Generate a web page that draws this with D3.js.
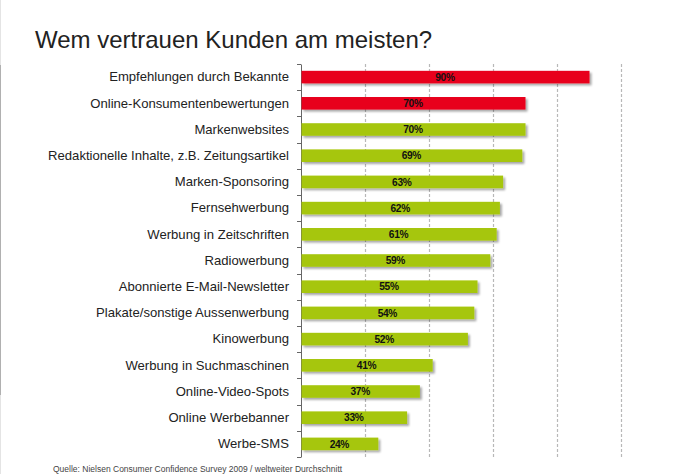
<!DOCTYPE html>
<html><head><meta charset="utf-8">
<script src="https://cdn.jsdelivr.net/npm/d3@7"></script>
<style>html,body{margin:0;padding:0;background:#fff;}</style>
</head><body>
<svg id="c" width="675" height="474"></svg>
<script>
const categories = ["Empfehlungen durch Bekannte","Online-Konsumentenbewertungen","Markenwebsites","Redaktionelle Inhalte, z.B. Zeitungsartikel","Marken-Sponsoring","Fernsehwerbung","Werbung in Zeitschriften","Radiowerbung","Abonnierte E-Mail-Newsletter","Plakate/sonstige Aussenwerbung","Kinowerbung","Werbung in Suchmaschinen","Online-Video-Spots","Online Werbebanner","Werbe-SMS"];
const values = [90,70,70,69,63,62,61,59,55,54,52,41,37,33,24];
const highlight = [true,true,false,false,false,false,false,false,false,false,false,false,false,false,false];
const gridTicks = [20,40,60,80,100];
const title = "Wem vertrauen Kunden am meisten?";
const source = "Quelle: Nielsen Consumer Confidence Survey 2009 / weltweiter Durchschnitt";

const svg = d3.select("#c");
const font = "Liberation Sans, Arial, Helvetica, sans-serif";

const defs = svg.append("defs");
const f = defs.append("filter").attr("id","sh").attr("x","-5%").attr("y","-30%").attr("width","115%").attr("height","190%");
f.append("feGaussianBlur").attr("in","SourceAlpha").attr("stdDeviation",1);
f.append("feOffset").attr("dx",2).attr("dy",2).attr("result","o");
f.append("feComponentTransfer").append("feFuncA").attr("type","linear").attr("slope",0.35);
const m = f.append("feMerge"); m.append("feMergeNode"); m.append("feMergeNode").attr("in","SourceGraphic");

// left page edge line
svg.append("line").attr("x1",0.5).attr("x2",0.5).attr("y1",0).attr("y2",474).attr("stroke","#e4e4e4");
svg.append("line").attr("x1",0.5).attr("x2",0.5).attr("y1",65).attr("y2",395).attr("stroke","#b0b0b0");

const x = d3.scaleLinear().domain([0,100]).range([301,621]);
const y = d3.scaleBand().domain(categories).range([64,457]).paddingInner(0.52).paddingOuter(0.26);

svg.append("text").attr("x",35).attr("y",48).attr("font-family",font).attr("font-size",24)
  .attr("fill","#222").text(title);

// gridlines
svg.append("g").selectAll("line").data(gridTicks).join("line")
  .attr("x1",d=>x(d)+0.5).attr("x2",d=>x(d)+0.5).attr("y1",64).attr("y2",457)
  .attr("stroke","#b8b8b8").attr("stroke-width",1.2).attr("stroke-dasharray","3,2");

// axis
const ax = d3.axisLeft(y).tickSize(0).tickPadding(12);
const ag = svg.append("g").attr("transform","translate(301,0)").call(ax);
ag.select(".domain").attr("stroke","#666");
ag.selectAll("text").attr("font-family",font).attr("font-size",13.1).attr("fill","#222");
// band boundary ticks
const bounds = categories.map(c=>y(c)-y.step()*y.paddingInner()/2).concat([457]);
svg.append("g").selectAll("line").data(bounds).join("line")
  .attr("x1",297).attr("x2",301).attr("y1",d=>Math.round(d)+0.5).attr("y2",d=>Math.round(d)+0.5)
  .attr("stroke","#666");

// bars
const bars = svg.append("g");
bars.selectAll("rect").data(values).join("rect")
  .attr("x",x(0)+0.5).attr("y",(d,i)=>y(categories[i]))
  .attr("width",d=>x(d)-x(0)).attr("height",y.bandwidth())
  .attr("fill",(d,i)=>highlight[i]?"#e8001b":"#a6c60a")
  .attr("filter","url(#sh)");
bars.selectAll("text").data(values).join("text")
  .attr("x",d=>(x(0)+x(d))/2).attr("y",(d,i)=>y(categories[i])+y.bandwidth()/2+3.6)
  .attr("text-anchor","middle").attr("font-family",font).attr("font-size",10.2).attr("font-weight","bold")
  .attr("fill","#111").attr("letter-spacing",-0.3).text(d=>d+"%");

svg.append("text").attr("x",53).attr("y",472).attr("font-family",font).attr("font-size",8.5)
  .attr("fill","#444").text(source);
</script>
</body></html>
